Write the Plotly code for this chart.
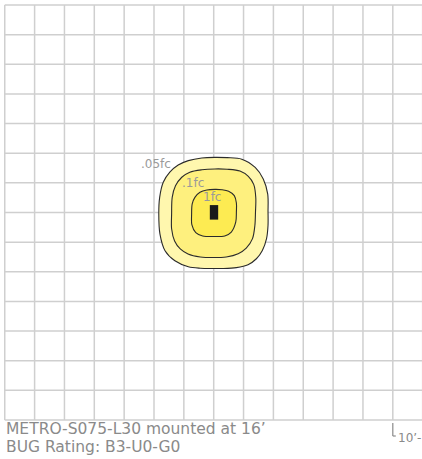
import plotly.graph_objects as go

# grid: 10 ft squares, luminaire at (0, 0)
grid_ticks = list(range(-70, 71, 10))

# isofootcandle contours (feet, clockwise from top)
outer_x = [0.4, 4.5, 9.4, 13.9, 16.6, 18.1, 18.2, 18.2, 17.7, 16.3, 14.3, 11.5, 7.6, 3.1, -0.2, -4.5, -8.5,
           -13.0, -16.3, -18.0, -18.4, -18.1, -16.9, -14.7, -11.9, -8.5, -4.0]
outer_y = [18.6, 18.5, 18.0, 15.2, 11.3, 6.2, 0.2, -4.3, -8.8, -12.8, -15.6, -17.6, -18.6, -18.9, -18.9, -18.8,
           -18.3, -16.3, -12.9, -7.3, -0.5, 5.1, 10.2, 13.6, 16.0, 17.5, 18.4]

middle_x = [0.4, 4.5, 8.8, 11.6, 13.4, 14.1, 14.0, 13.8, 13.0, 10.9, 8.2, 4.2, -0.2, -4.5, -8.6, -11.2,
            -13.1, -14.1, -14.1, -13.9, -12.8, -10.7, -8.0, -4.0]
middle_y = [14.7, 14.6, 14.0, 12.2, 9.5, 5.0, 0.2, -4.3, -8.8, -12.0, -13.9, -15.0, -15.2, -15.0, -14.0,
            -12.3, -9.6, -5.5, -0.5, 5.1, 9.0, 11.9, 13.6, 14.4]

inner_x = [0.4, 2.8, 5.0, 6.9, 7.6, 7.6, 7.4, 5.9, 3.7, -0.2, -3.7, -6.0, -7.3, -7.4, -7.2, -6.3, -4.6, -2.3]
inner_y = [7.8, 7.7, 7.2, 5.7, 3.2, 0.2, -3.2, -6.6, -7.9, -8.1, -7.9, -6.8, -4.2, -0.5, 2.9, 5.1, 6.8, 7.6]

contour_labels = ['.05fc', '.1fc', '1fc']
label_x = [-19.2, -7.0, -0.6]
label_y = [16.2, 10.0, 5.1]

# luminaire footprint
lum_x = [-1.3, 1.5]
lum_y = [-2.4, 2.5]

title_lines = ["METRO-S075-L30 mounted at 16\u2019", "BUG Rating: B3-U0-G0"]
scale_text = "10\u2019-"

fig = go.Figure()

grid_style = dict(color='#cfcfcf', width=1.5)
for t in grid_ticks:
    fig.add_shape(type='line', x0=t, x1=t, y0=-70, y1=70, line=grid_style, layer='below')
    fig.add_shape(type='line', x0=-70, x1=80, y0=t, y1=t, line=grid_style, layer='below')

fills = ['#fff7ae', '#fef07e', '#fdeb52']
for xs, ys, fc in zip([outer_x, middle_x, inner_x], [outer_y, middle_y, inner_y], fills):
    fig.add_trace(go.Scatter(
        x=xs + xs[:1], y=ys + ys[:1],
        mode='lines', fill='toself', fillcolor=fc,
        line=dict(color='#2b2b2b', width=1.1, shape='spline', smoothing=0.9),
        hoverinfo='skip', showlegend=False,
    ))

fig.add_shape(type='rect', x0=lum_x[0], x1=lum_x[1], y0=lum_y[0], y1=lum_y[1],
              fillcolor='#1a1a1a', line=dict(width=0))

for text, lx, ly in zip(contour_labels, label_x, label_y):
    fig.add_annotation(x=lx, y=ly, text=text, showarrow=False,
                       font=dict(family='DejaVu Sans', size=12, color='#9a9a9a'))

for i, line in enumerate(title_lines):
    fig.add_annotation(x=-70.3, y=-73.0 - i * 6.1, text=line, showarrow=False,
                       xanchor='left', yanchor='middle',
                       font=dict(family='DejaVu Sans', size=15.5, color='#8a8a8a'))

# scale marker
fig.add_shape(type='line', x0=60, x1=60, y0=-71.0, y1=-75.4, line=dict(color='#8a8a8a', width=1.2))
fig.add_shape(type='line', x0=60, x1=61.0, y0=-75.4, y1=-75.4, line=dict(color='#8a8a8a', width=1.2))
fig.add_annotation(x=61.0, y=-76.2, text=scale_text, showarrow=False, xanchor='left', yanchor='middle',
                   font=dict(family='DejaVu Sans', size=12, color='#8a8a8a'))

fig.update_layout(
    width=422, height=459,
    margin=dict(l=0, r=0, t=0, b=0),
    paper_bgcolor='white', plot_bgcolor='white',
    xaxis=dict(range=[-71.59, 69.78], visible=False, fixedrange=True),
    yaxis=dict(range=[-83.16, 71.69], visible=False, fixedrange=True),
)

# drop the page's default body margin so the figure fills the window
fig.write_html("out.html", config={'displayModeBar': False},
               post_script="document.body.style.margin='0';document.body.style.overflow='hidden';")
